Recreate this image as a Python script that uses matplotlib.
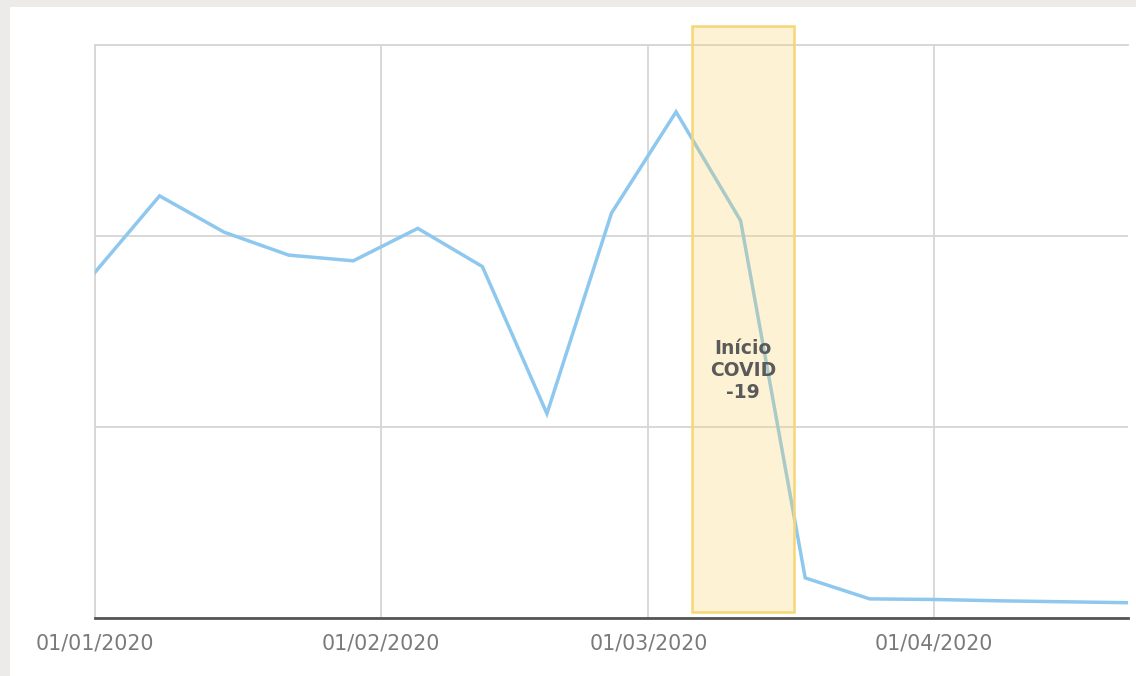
import matplotlib
matplotlib.use("Agg")
import matplotlib.pyplot as plt
import matplotlib.dates as mdates
from matplotlib.patches import Rectangle
import numpy as np

# ---- data ----
dates = ["2020-01-01", "2020-01-08", "2020-01-15", "2020-01-22", "2020-01-29",
         "2020-02-05", "2020-02-12", "2020-02-19", "2020-02-26", "2020-03-04",
         "2020-03-11", "2020-03-18", "2020-03-25", "2020-04-01", "2020-04-08",
         "2020-04-15", "2020-04-22"]
values = [1.81, 2.21, 2.02, 1.90, 1.87, 2.04, 1.84, 1.07, 2.12, 2.65,
          2.08, 0.21, 0.10, 0.097, 0.09, 0.085, 0.08]
tick_dates = ["2020-01-01", "2020-02-01", "2020-03-01", "2020-04-01"]
tick_labels = ["01/01/2020", "01/02/2020", "01/03/2020", "01/04/2020"]
covid_start = "2020-03-05 18:00"
covid_end = "2020-03-16 18:00"
covid_label = "Início\nCOVID\n-19"
x_range = ("2020-01-01", "2020-04-22")
y_range = (0, 3)

to_num = lambda s: mdates.date2num(np.datetime64(s))

fig = plt.figure(figsize=(11.36, 6.76), dpi=100, facecolor="white")
# page border strips
fig.patches.append(Rectangle((0, 1 - 7/676), 1, 7/676, transform=fig.transFigure,
                             facecolor="#ecebe9", edgecolor="none", zorder=0))
fig.patches.append(Rectangle((0, 0), 10/1136, 1, transform=fig.transFigure,
                             facecolor="#ecebe9", edgecolor="none", zorder=0))

ax = fig.add_axes([95/1136, 58/676, 1033/1136, 573/676])
ax.set_facecolor("white")

xs = [to_num(d) for d in dates]
ax.plot(xs, values, color="#8ec8ee", lw=2.5, solid_joinstyle="miter", zorder=3)

# covid highlight
x0, x1 = to_num(covid_start), to_num(covid_end)
trans = ax.get_xaxis_transform()
rect = Rectangle((x0, 6/573), x1 - x0, (612 - 26)/573, transform=trans,
                 facecolor=(0.973, 0.824, 0.39, 0.27), edgecolor="#f6d676",
                 lw=1.8, clip_on=False, zorder=4)
ax.add_patch(rect)
ax.text((x0 + x1) / 2, 1.295, covid_label, ha="center", va="center",
        fontsize=13.5, fontweight="bold", color="#5a5a5a", linespacing=1.2,
        zorder=5)

ax.set_xlim(to_num(x_range[0]), to_num(x_range[1]))
ax.set_ylim(*y_range)
ax.set_xticks([to_num(d) for d in tick_dates])
ax.set_xticklabels(tick_labels)
ax.set_yticks([0, 1, 2, 3])
ax.set_yticklabels([])
ax.grid(True, color="#d6d6d6", lw=1.3, zorder=1)
ax.set_axisbelow(True)
ax.tick_params(axis="both", length=0)
ax.tick_params(axis="x", pad=11, labelsize=14.8, labelcolor="#7a7a7a")

for s in ["top", "left"]:
    ax.spines[s].set_color("#d6d6d6")
    ax.spines[s].set_linewidth(1.3)
ax.spines["right"].set_visible(False)
ax.spines["bottom"].set_color("#555555")
ax.spines["bottom"].set_linewidth(2)

fig.savefig("out.png", dpi=100, facecolor=fig.get_facecolor())
